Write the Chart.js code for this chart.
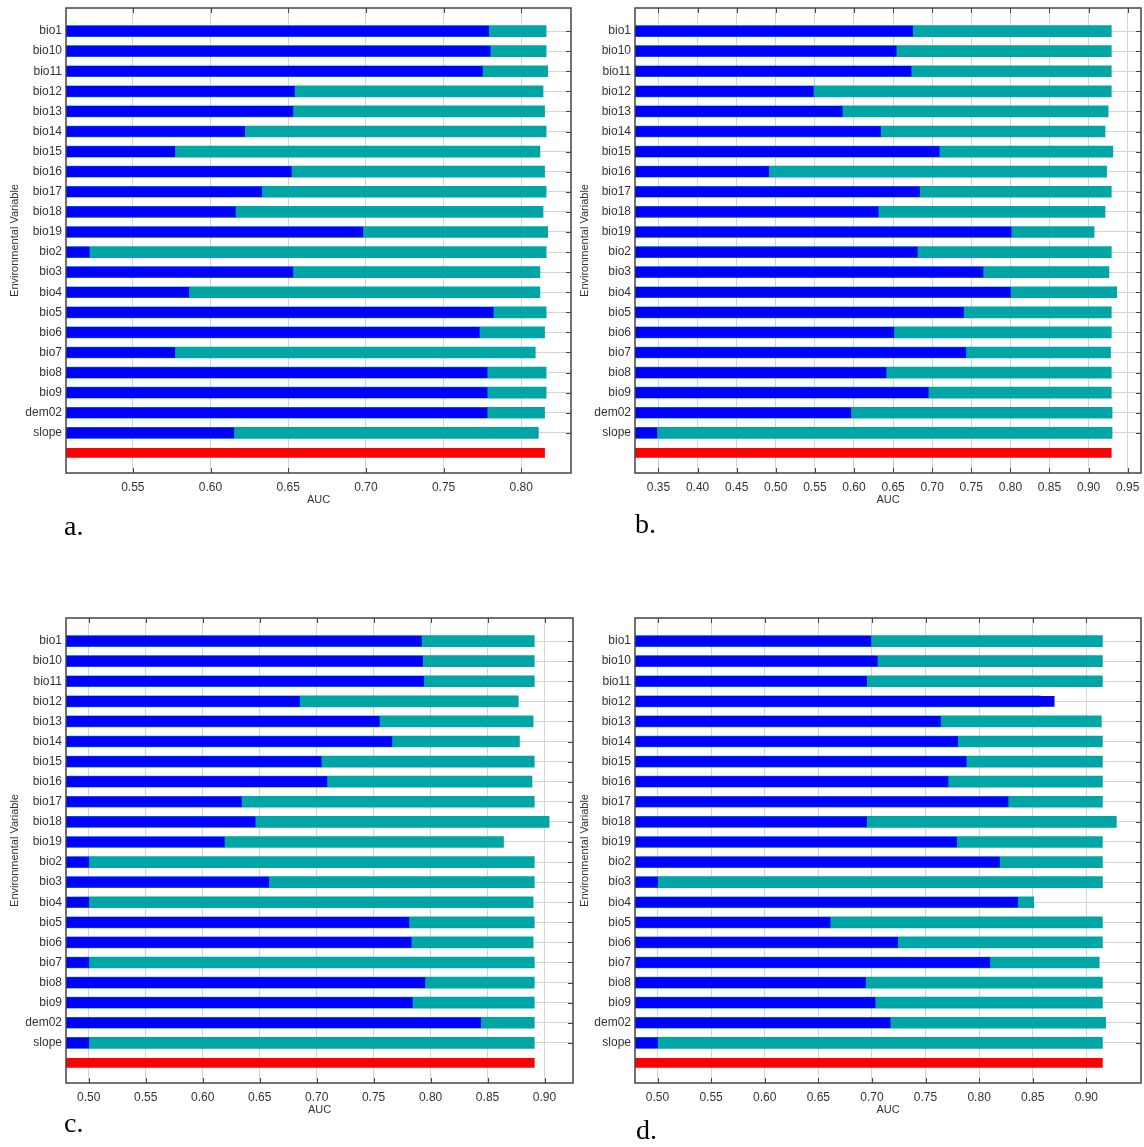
<!DOCTYPE html>
<html>
<head>
<meta charset="utf-8">
<script src="https://cdn.jsdelivr.net/npm/chart.js@4.4.1/dist/chart.umd.min.js"></script>
<style>
  body { margin: 0; background: #fff; width: 1144px; height: 1147px; position: relative; overflow: hidden; }
  canvas { position: absolute; }
  .tag { position: absolute; font-family: "Liberation Serif", "Times New Roman", serif; font-size: 28px; line-height: 28px; color: #000; }
</style>
</head>
<body>
<canvas id="chartA" width="580" height="520" style="left:0;top:0"></canvas>
<canvas id="chartB" width="574" height="520" style="left:570px;top:0"></canvas>
<canvas id="chartC" width="580" height="520" style="left:0;top:610px"></canvas>
<canvas id="chartD" width="574" height="520" style="left:570px;top:610px"></canvas>
<div class="tag" style="left:64px;top:512px">a.</div>
<div class="tag" style="left:635px;top:510px">b.</div>
<div class="tag" style="left:64px;top:1109px">c.</div>
<div class="tag" style="left:636px;top:1116px">d.</div>
<script>
// jackknife of variable importance, four models
const variables = ["bio1", "bio10", "bio11", "bio12", "bio13", "bio14", "bio15", "bio16", "bio17", "bio18", "bio19",
  "bio2", "bio3", "bio4", "bio5", "bio6", "bio7", "bio8", "bio9", "dem02", "slope"];

// a.
const aOnly = [0.779, 0.780, 0.775, 0.654, 0.653, 0.622, 0.577, 0.652, 0.633, 0.616, 0.698,
  0.522, 0.653, 0.586, 0.782, 0.773, 0.577, 0.778, 0.778, 0.778, 0.615];
const aWithout = [0.816, 0.816, 0.817, 0.814, 0.815, 0.816, 0.812, 0.815, 0.816, 0.814, 0.817,
  0.816, 0.812, 0.812, 0.816, 0.815, 0.809, 0.816, 0.816, 0.815, 0.811];
const aAll = 0.815;
const aTicks = [0.55, 0.60, 0.65, 0.70, 0.75, 0.80];
const aRange = [0.507, 0.832];

// b.
const bOnly = [0.675, 0.654, 0.673, 0.548, 0.585, 0.634, 0.709, 0.491, 0.684, 0.631, 0.801,
  0.681, 0.765, 0.800, 0.740, 0.651, 0.743, 0.641, 0.695, 0.596, 0.348];
const bWithout = [0.929, 0.929, 0.929, 0.929, 0.925, 0.921, 0.931, 0.923, 0.929, 0.921, 0.907,
  0.929, 0.926, 0.936, 0.929, 0.929, 0.928, 0.929, 0.929, 0.930, 0.930];
const bAll = 0.929;
const bTicks = [0.35, 0.40, 0.45, 0.50, 0.55, 0.60, 0.65, 0.70, 0.75, 0.80, 0.85, 0.90, 0.95];
const bRange = [0.320, 0.967];

// c.
const cOnly = [0.792, 0.793, 0.794, 0.685, 0.755, 0.766, 0.704, 0.709, 0.634, 0.646, 0.619,
  0.500, 0.658, 0.500, 0.781, 0.783, 0.500, 0.795, 0.784, 0.844, 0.500];
const cWithout = [0.891, 0.891, 0.891, 0.877, 0.890, 0.878, 0.891, 0.889, 0.891, 0.904, 0.864,
  0.891, 0.891, 0.890, 0.891, 0.890, 0.891, 0.891, 0.891, 0.891, 0.891];
const cAll = 0.891;
const cTicks = [0.50, 0.55, 0.60, 0.65, 0.70, 0.75, 0.80, 0.85, 0.90];
const cRange = [0.480, 0.925];

// d.
const dOnly = [0.699, 0.705, 0.695, 0.870, 0.764, 0.780, 0.788, 0.771, 0.827, 0.695, 0.779,
  0.819, 0.500, 0.836, 0.661, 0.724, 0.810, 0.694, 0.703, 0.717, 0.500];
const dWithout = [0.915, 0.915, 0.915, 0.857, 0.914, 0.915, 0.915, 0.915, 0.915, 0.928, 0.915,
  0.915, 0.915, 0.851, 0.915, 0.915, 0.912, 0.915, 0.915, 0.918, 0.915];
const dAll = 0.915;
const dTicks = [0.50, 0.55, 0.60, 0.65, 0.70, 0.75, 0.80, 0.85, 0.90];
const dRange = [0.479, 0.951];

Chart.defaults.font.family = "'Liberation Sans', Arial, sans-serif";
Chart.defaults.color = "#222";

// inward tick marks (under the bars) and the box round the plot
const framePlugin = {
  id: "frame",
  beforeDatasetsDraw(chart) {
    const { ctx, chartArea: a, scales } = chart;
    ctx.save();
    ctx.strokeStyle = "#444";
    ctx.lineWidth = 1;
    ctx.beginPath();
    scales.x.ticks.forEach(t => {
      const px = Math.round(scales.x.getPixelForValue(t.value)) + 0.5;
      ctx.moveTo(px, a.top); ctx.lineTo(px, a.top + 5);
      ctx.moveTo(px, a.bottom); ctx.lineTo(px, a.bottom - 5);
    });
    scales.y.ticks.forEach(t => {
      const py = Math.round(scales.y.getPixelForValue(t.value)) + 0.5;
      ctx.moveTo(a.left, py); ctx.lineTo(a.left + 5, py);
      ctx.moveTo(a.right, py); ctx.lineTo(a.right - 5, py);
    });
    ctx.stroke();
    ctx.restore();
  },
  afterDraw(chart) {
    const { ctx, chartArea: a } = chart;
    ctx.save();
    ctx.strokeStyle = "#444";
    ctx.lineWidth = 1.5;
    ctx.strokeRect(a.left, a.top, a.right - a.left, a.bottom - a.top);
    ctx.restore();
  }
};

function makePanel(id, only, without, all, ticks, range, left, padRight) {
  const canvas = document.getElementById(id);
  new Chart(canvas, {
    type: "bar",
    data: {
      datasets: [
        { label: "With only variable", data: only.map((v, i) => ({ x: v, y: i })),
          backgroundColor: "#0000ff", barThickness: 10, order: 0 },
        { label: "Without variable", data: without.map((v, i) => ({ x: v, y: i })),
          backgroundColor: "#00a6a6", barThickness: 11, order: 1 },
        { label: "With all variables", data: [{ x: all, y: variables.length }],
          backgroundColor: "#ff0000", barThickness: 9, order: 2 }
      ]
    },
    options: {
      indexAxis: "y",
      responsive: false,
      animation: false,
      grouped: false,
      layout: { padding: { top: 8, right: padRight, left: 0, bottom: 0 } },
      plugins: { legend: { display: false }, tooltip: { enabled: false } },
      scales: {
        x: {
          type: "linear",
          min: range[0],
          max: range[1],
          offset: false,
          afterBuildTicks: s => { s.ticks = ticks.map(v => ({ value: v })); },
          afterFit: s => { s.height = 47; s.paddingLeft = 0; s.paddingRight = 0; },
          ticks: { font: { size: 12 }, padding: 7, color: "#333", callback: v => v.toFixed(2) },
          grid: { color: "#d4d4d4", drawTicks: false, offset: false },
          border: { display: false },
          title: { display: true, text: "AUC", font: { size: 11 }, color: "#333", padding: { top: 0, bottom: 13 } }
        },
        y: {
          type: "linear",
          reverse: true,
          min: -1.15,
          max: 22.0,
          offset: false,
          afterBuildTicks: s => { s.ticks = variables.map((_, i) => ({ value: i })); },
          afterFit: s => { s.width = left; s.paddingTop = 0; s.paddingBottom = 0; },
          ticks: { font: { size: 12 }, padding: 4, autoSkip: false, color: "#333", callback: v => variables[v] },
          grid: { color: "#d4d4d4", drawTicks: false, offset: false },
          border: { display: false },
          title: { display: true, text: "Environmental Variable", font: { size: 11 }, color: "#333", padding: { top: 8, bottom: 0 } }
        }
      }
    },
    plugins: [framePlugin]
  });
}

makePanel("chartA", aOnly, aWithout, aAll, aTicks, aRange, 66, 9);
makePanel("chartB", bOnly, bWithout, bAll, bTicks, bRange, 65, 3);
makePanel("chartC", cOnly, cWithout, cAll, cTicks, cRange, 66, 7);
makePanel("chartD", dOnly, dWithout, dAll, dTicks, dRange, 65, 3);
</script>
</body>
</html>
